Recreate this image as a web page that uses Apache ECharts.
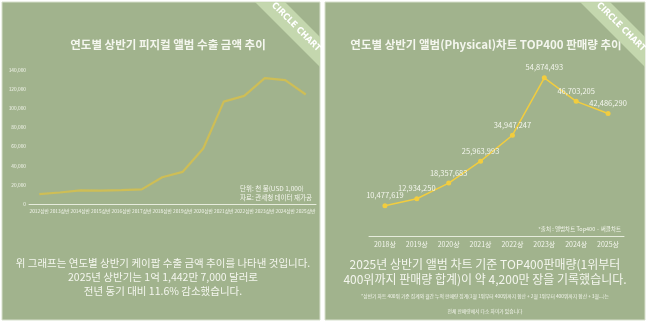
<!DOCTYPE html>
<html><head><meta charset="utf-8">
<script src="https://cdn.jsdelivr.net/npm/echarts@6/dist/echarts.min.js"></script>
<style>html,body{margin:0;padding:0;background:#fff}#c{width:647px;height:324px}</style>
</head><body><div id="c"></div>
<script>
const leftCats = ['2012상반','2013상반','2014상반','2015상반','2016상반','2017상반','2018상반','2019상반','2020상반','2021상반','2022상반','2023상반','2024상반','2025상반'];
const leftVals = [10400, 12000, 14300, 14000, 14600, 15300, 28000, 33600, 58000, 107000, 113000, 131500, 129400, 114427];
const leftTicks = [0, 20000, 40000, 60000, 80000, 100000, 120000, 140000];
const rightCats = ['2018상','2019상','2020상','2021상','2022상','2023상','2024상','2025상'];
const rightVals = [10477619, 12934250, 18357683, 25963993, 34947247, 54874493, 46703205, 42486290];

const FONT = '"Noto Sans CJK KR", "Noto Sans", sans-serif';
const GREEN = '#a1b38d';
const TXT = '#f4f6ee';

function ribbon(x0){
  return [
    {type:'polygon', shape:{points:[[x0+253,2],[x0+283,2],[x0+318,37],[x0+318,67]]}, style:{fill:'#c4d7ae'}, z:10},
    {type:'text', x:x0+294, y:27, rotation:-Math.PI/4, style:{text:'CIRCLE CHART', fill:'#ffffff', font:'bold 9px "DejaVu Sans Condensed", sans-serif', textAlign:'center', textVerticalAlign:'middle'}, z:11}
  ];
}

const chart = echarts.init(document.getElementById('c'), null, {renderer:'canvas'});
chart.setOption({
  backgroundColor:'#ffffff',
  animation:false,
  title:[
    {text:'연도별 상반기 피지컬 앨범 수출 금액 추이', left:163, top:34, textAlign:'center',
     textStyle:{color:TXT, fontSize:11.5, fontWeight:'bold', fontFamily:FONT}},
    {text:'연도별 상반기 앨범(Physical)차트 TOP400 판매량 추이', left:481, top:34, textAlign:'center',
     textStyle:{color:TXT, fontSize:11.5, fontWeight:'bold', fontFamily:FONT}}
  ],
  graphic:[
    {type:'rect', shape:{x:2,y:2,width:318,height:318}, style:{fill:GREEN, stroke:'#d6dfcb', lineWidth:1}, z:-10},
    {type:'rect', shape:{x:325,y:2,width:320,height:318}, style:{fill:GREEN, stroke:'#d6dfcb', lineWidth:1}, z:-10},
    ...ribbon(2), ...ribbon(327),
    {type:'text', left:240, top:184, style:{text:'단위: 천 불(USD 1,000)\n자료: 관세청 데이터 재가공', fill:TXT, font:'6.5px '+FONT, lineHeight:9}},
    {type:'text', x:163, y:256, style:{text:'위 그래프는 연도별 상반기 케이팝 수출 금액 추이를 나타낸 것입니다.\n2025년 상반기는 1억 1,442만 7,000 달러로\n전년 동기 대비 11.6% 감소했습니다.', fill:TXT, font:'10.5px '+FONT, textAlign:'center', lineHeight:14}},
    {type:'text', x:621, y:226, style:{text:'*출처 : 앨범차트 Top400 · 써클차트', fill:TXT, font:'5.5px '+FONT, textAlign:'right'}},
    {type:'text', x:485, y:257, style:{text:'2025년 상반기 앨범 차트 기준 TOP400판매량(1위부터\n400위까지 판매량 합계)이 약 4,200만 장을 기록했습니다.', fill:TXT, font:'12px '+FONT, textAlign:'center', lineHeight:15}},
    {type:'text', x:485, y:292, style:{text:'*상반기 차트 400위 기준 집계와 월간 누적 판매량 집계(1월 1위부터 400위까지 합산 + 2월 1위부터 400위까지 합산 + 3월...)는\n\n전체 판매량에서 다소 차이가 있습니다', fill:TXT, font:'4.8px '+FONT, textAlign:'center', lineHeight:7.5}}
  ],
  grid:[
    {left:29, right:331, top:70, bottom:120},
    {left:369, right:23, top:63, bottom:88}
  ],
  xAxis:[
    {type:'category', gridIndex:0, data:leftCats, boundaryGap:true,
     axisLine:{lineStyle:{color:'#e6ecdc', width:1}}, axisTick:{show:false},
     axisLabel:{color:TXT, fontSize:4.8, fontFamily:FONT, margin:5, interval:0}},
    {type:'category', gridIndex:1, data:rightCats, boundaryGap:true,
     axisLine:{lineStyle:{color:'#e6ecdc', width:1}}, axisTick:{show:false},
     axisLabel:{color:TXT, fontSize:7, fontFamily:FONT, margin:5, interval:0}}
  ],
  yAxis:[
    {type:'value', gridIndex:0, min:leftTicks[0], max:leftTicks[leftTicks.length-1], interval:20000,
     axisLine:{show:false}, axisTick:{show:false}, splitLine:{show:false},
     axisLabel:{color:TXT, fontSize:4.8, fontFamily:FONT, margin:3,
       formatter:v=>v.toLocaleString('en-US')}},
    {type:'value', gridIndex:1, min:0, max:60000000, show:false, splitLine:{show:false}}
  ],
  series:[
    {type:'line', xAxisIndex:0, yAxisIndex:0, data:leftVals, showSymbol:false, symbol:'none',
     lineStyle:{color:'#d3bf50', width:2.2, opacity:0.9}},
    {type:'line', xAxisIndex:1, yAxisIndex:1, data:rightVals, symbol:'circle', symbolSize:5,
     itemStyle:{color:'#f2cd3e'}, lineStyle:{color:'#f2cd3e', width:1.5},
     label:{show:true, position:'top', distance:4, color:TXT, fontSize:7.5, fontFamily:FONT,
       formatter:p=>p.value.toLocaleString('en-US')}}
  ]
});
</script></body></html>
